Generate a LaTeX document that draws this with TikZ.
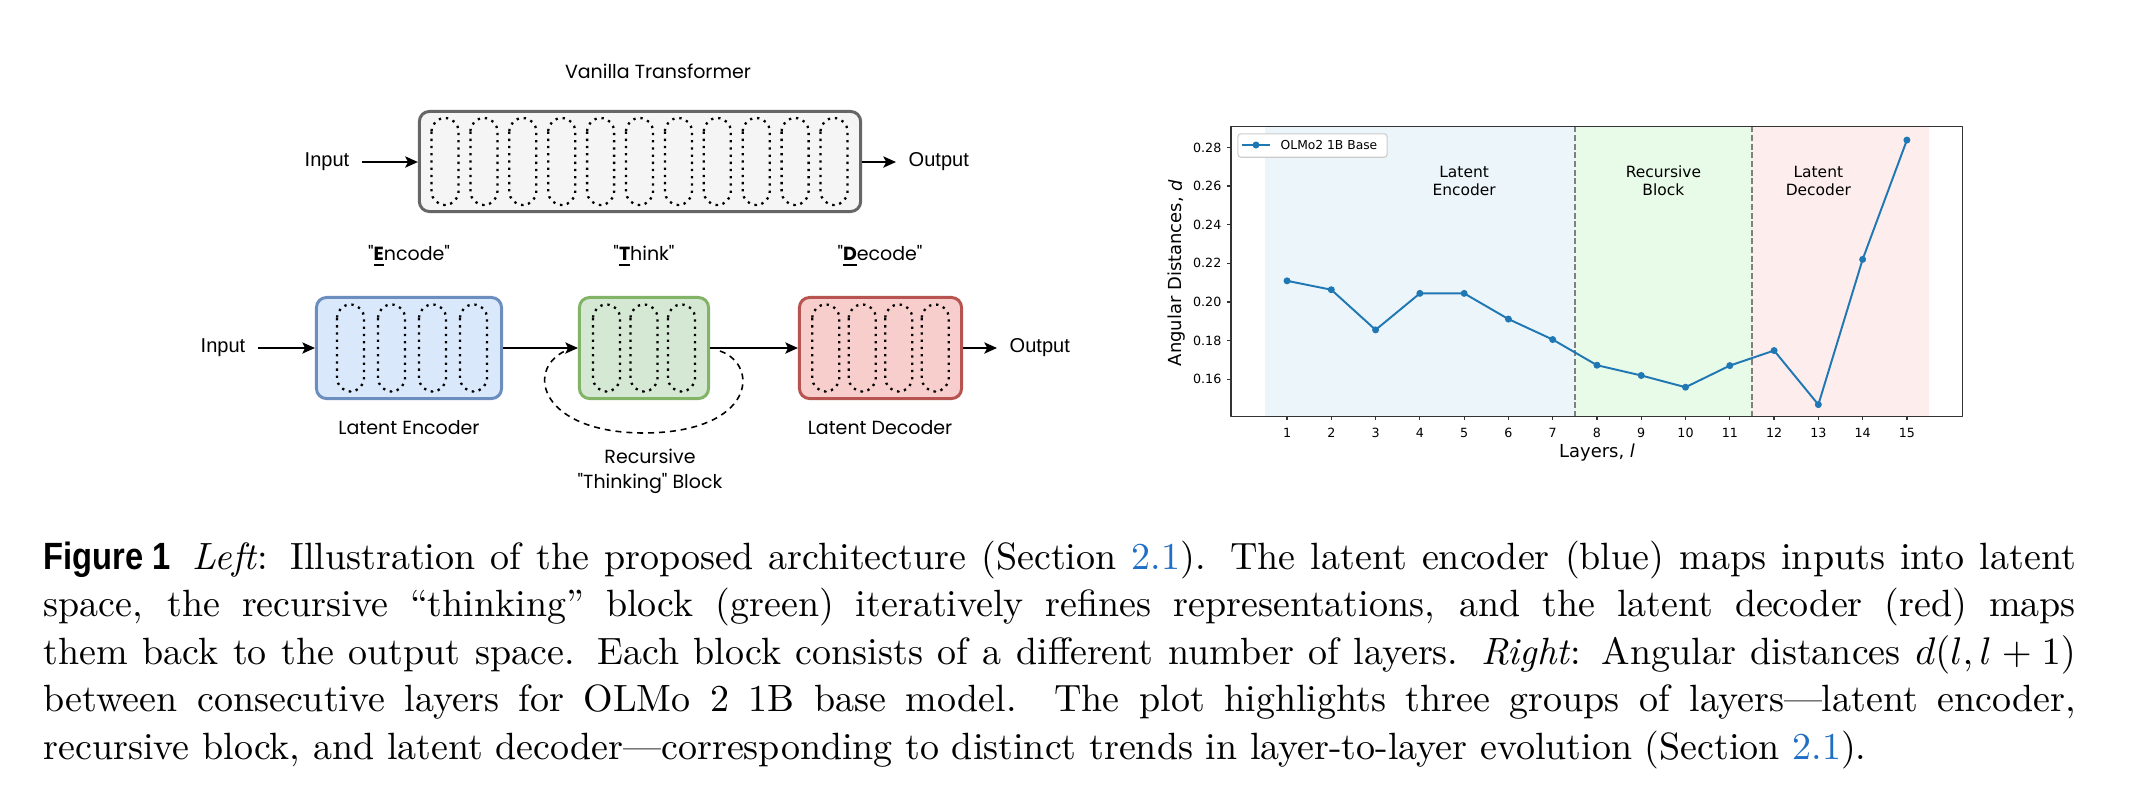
\documentclass[tikz,border=0pt]{standalone}
\usepackage{fontspec}
\newfontfamily\sketchfont{Poppins}
\newfontfamily\arialfont{Liberation Sans}
\newfontfamily\pltfont{DejaVu Sans}
\usetikzlibrary{arrows.meta}
\definecolor{vanfill}{HTML}{F5F5F5}\definecolor{vandraw}{HTML}{666666}
\definecolor{encfill}{HTML}{DAE8FC}\definecolor{encdraw}{HTML}{6C8EBF}
\definecolor{thkfill}{HTML}{D5E8D4}\definecolor{thkdraw}{HTML}{82B366}
\definecolor{decfill}{HTML}{F8CECC}\definecolor{decdraw}{HTML}{B85450}
\definecolor{plotblue}{HTML}{1F77B4}
\definecolor{spanB}{HTML}{EBF5FA}\definecolor{spanG}{HTML}{E8FAE8}\definecolor{spanR}{HTML}{FDEDED}
\definecolor{linkblue}{HTML}{1F6FC5}
\begin{document}
\begin{tikzpicture}[x=0.01cm, y=-0.01cm, line join=round, >={Stealth[length=3.6pt,width=3.2pt,inset=0.8pt]},
	block/.style={draw, line width=0.85pt, rounded corners=0.1cm, minimum height=1.01cm, inner sep=0pt},
	layer/.style={draw=black, line width=0.65pt, dash pattern=on 0.65pt off 1.4pt, rounded corners=0.135cm},
	io/.style={font=\arialfont\fontsize{5.7}{6.8}\selectfont, inner sep=0.12cm},
	lbl/.style={font=\sketchfont\fontsize{5.4}{7.1}\selectfont, align=center, inner sep=0pt},
	link/.style={->, line width=0.45pt},
	sepline/.style={draw=gray, line width=0.45pt, dash pattern=on 1.7pt off 0.75pt},
	frame/.style={draw=black!80, line width=0.35pt},
	ticklbl/.style={font=\pltfont\fontsize{3.6}{4.3}\selectfont, inner sep=0.055cm},
	axlbl/.style={font=\pltfont\fontsize{5.1}{6}\selectfont, inner sep=0pt},
	capline/.style={font=\fontsize{10.8}{13}\selectfont, anchor=base west, inner sep=0pt}]
\useasboundingbox (0,0) rectangle (2130,808);

% vanilla transformer
\node[block, fill=vanfill, draw=vandraw, minimum width=4.41cm, minimum height=1.0cm] (van) at (640,161.5) {};
\foreach \k in {0,...,10}
	\draw[layer, shift={(van.center)}] (-208.5+38.9*\k,-43.5) rectangle ++(27,87);
\node[lbl] (vanT) at (658,71) {Vanilla Transformer};
\node[io, anchor=east] (inV) at (362,162) {Input};
\node[io, anchor=west] (outV) at (896,162) {Output};
\draw[link] (inV) -- (inV -| van.west);
\draw[link] (van.east |- outV) -- (outV);

% encode / think / decode
\node[block, fill=encfill, draw=encdraw, minimum width=1.85cm] (enc) at (409,348) {};
\node[block, fill=thkfill, draw=thkdraw, minimum width=1.29cm] (thk) at (644,348) {};
\node[block, fill=decfill, draw=decdraw, minimum width=1.62cm] (dec) at (880.5,348) {};
\foreach \dx in {-58.5,-17.5,23.5,64.5}
	\draw[layer, shift={(enc.center)}] (\dx-13.5,-43.5) rectangle ++(27,87);
\foreach \dx in {-37.5,0,37.5}
	\draw[layer, shift={(thk.center)}] (\dx-13.5,-43.5) rectangle ++(27,87);
\foreach \dx in {-54.75,-18.25,18.25,54.75}
	\draw[layer, shift={(dec.center)}] (\dx-13.5,-43.5) rectangle ++(27,87);

\node[lbl] (encT) at (409,256) {"\underline{\textbf{E}}ncode"};
\node[lbl] (thkT) at (644,256) {"\underline{\textbf{T}}hink"};
\node[lbl] (decT) at (880,256) {"\underline{\textbf{D}}ecode"};
\node[lbl] (encB) at (409,428) {Latent Encoder};
\node[lbl] (decB) at (880,428) {Latent Decoder};
\node[lbl] (thkB) at (650,471) {Recursive\\"Thinking" Block};

\node[io, anchor=east] (inB) at (258,348) {Input};
\node[io, anchor=west] (outB) at (997,348) {Output};
\draw[link] (inB) -- (inB -| enc.west);
\draw[link] (enc) -- (thk);
\draw[link] (thk) -- (dec);
\draw[link] (dec) -- (outB);

\path (720,351) coordinate (lpA) (565,351) coordinate (lpB);
\draw[line width=0.45pt, dash pattern=on 1.7pt off 1.4pt] (lpA) .. controls (760,365) and (755,432) .. (645,433) coordinate (lpC)
	.. controls (540,433) and (525,370) .. (lpB);

% angular distance plot
\begin{scope}[shift={(1242.75,688.1)}, x=0.4425cm, y=19.3cm]
	\fill[spanB] (0.5,0.1405) rectangle (7.5,0.2907);
	\fill[spanG] (7.5,0.1405) rectangle (11.5,0.2907);
	\fill[spanR] (11.5,0.1405) rectangle (15.5,0.2907);
	\draw[sepline] (7.5,0.1405) -- (7.5,0.2907);
	\draw[sepline] (11.5,0.1405) -- (11.5,0.2907);
	\foreach \l/\v in {1/0.2109,2/0.2063,3/0.1855,4/0.2044,5/0.2044,6/0.1911,7/0.1805,8/0.1672,
		9/0.1619,10/0.1558,11/0.1670,12/0.1748,13/0.1468,14/0.2220,15/0.2838}
		\coordinate (p\l) at (\l,\v);
	\draw[plotblue, line width=0.55pt] (p1) \foreach \l in {2,...,15}{-- (p\l)};
	\foreach \l in {1,...,15}
		\fill[plotblue] (p\l) circle (0.035cm);
	\draw[frame] (-0.2655,0.1405) rectangle (16.25,0.2907);
	\foreach \l in {1,...,15}{
		\draw[frame] (\l,0.1405) -- ++(0,-0.0018);
		\node[ticklbl] (xt\l) at (\l,0.1322) {\l};
	}
	\foreach \v in {0.16,0.18,0.20,0.22,0.24,0.26,0.28}
		\draw[frame] (-0.2655,\v) -- ++(-0.08,0) node[ticklbl, anchor=east] (yt\v) {\v};
	\node[font=\pltfont\fontsize{4.4}{5}\selectfont, align=center] (rgE) at (5,0.2626) {Latent\\Encoder};
	\node[font=\pltfont\fontsize{4.4}{5}\selectfont, align=center] (rgR) at (9.5,0.2626) {Recursive\\Block};
	\node[font=\pltfont\fontsize{4.4}{5}\selectfont, align=center] (rgD) at (13,0.2626) {Latent\\Decoder};
\end{scope}
\node[draw=black!20, fill=white, rounded corners=0.03cm, line width=0.3pt, minimum width=1.49cm, minimum height=0.23cm] (leg) at (1312.5,145.5) {};
\path (1242,145) coordinate (lgA) (1270,145) coordinate (lgB) (1256,145) coordinate (lgM);
\draw[plotblue, line width=0.55pt] (lgA) -- (lgB);
\fill[plotblue] (lgM) circle (0.035cm);
\node[font=\pltfont\fontsize{3.5}{4}\selectfont, anchor=west, inner sep=0pt] (legT) at (1280,145) {OLMo2 1B Base};
\node[axlbl] (xl) at (1597,453) {Layers, \textit{l}};
\node[axlbl, rotate=90] (yl) at (1177,273) {Angular Distances, \textit{d}};

% caption
\node[capline] (cap1) at (43,569) {\hbox to 20.31cm{\scalebox{0.86}[1]{\arialfont\bfseries Figure 1}\hspace{0.22cm}\textit{Left}: Illustration of the proposed architecture (Section {\color{linkblue}2.1}). The latent encoder (blue) maps inputs into latent}};
\node[capline] (cap2) at (43,616) {\hbox to 20.31cm{space, the recursive “thinking” block (green) iteratively refines representations, and the latent decoder (red) maps}};
\node[capline] (cap3) at (43,664) {\hbox to 20.31cm{them back to the output space. Each block consists of a different number of layers. \textit{Right}: Angular distances $d(l,l+1)$}};
\node[capline] (cap4) at (43,711) {\hbox to 20.31cm{between consecutive layers for OLMo 2 1B base model. The plot highlights three groups of layers---latent encoder,}};
\node[capline] (cap5) at (43,759) {recursive block, and latent decoder---corresponding to distinct trends in layer-to-layer evolution (Section {\color{linkblue}2.1}).};
\end{tikzpicture}
\end{document}
